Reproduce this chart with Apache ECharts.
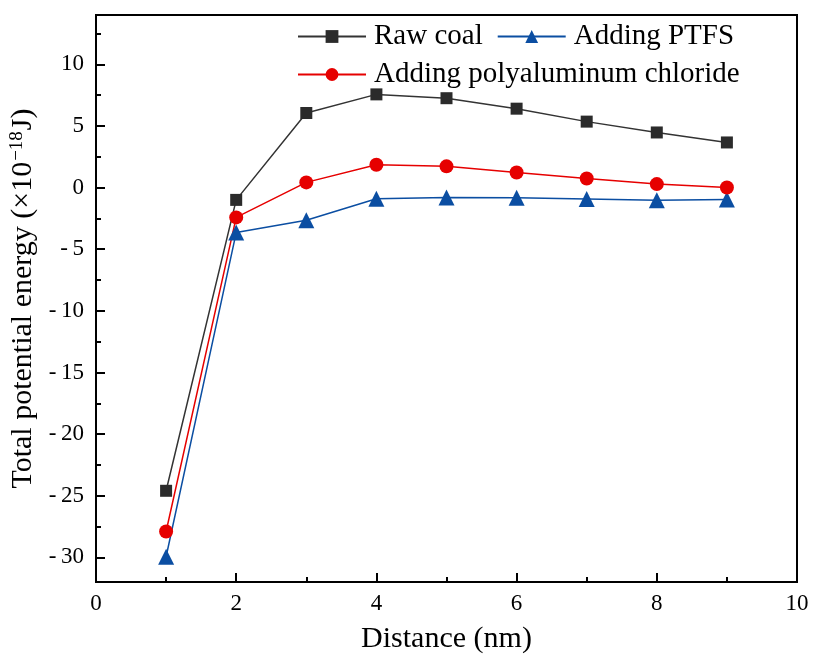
<!DOCTYPE html>
<html><head><meta charset="utf-8">
<script src="https://cdn.jsdelivr.net/npm/echarts@6/dist/echarts.min.js"></script>
<style>html,body{margin:0;padding:0;background:#fff}#c{width:814px;height:655px}</style>
</head><body><div id="c"></div>
<script>
const distance = [1, 2, 3, 4, 5, 6, 7, 8, 9];
const rawCoal = [-24.6, -1.0, 6.05, 7.56, 7.25, 6.4, 5.35, 4.47, 3.66];
const addingPTFS = [-29.95, -3.65, -2.65, -0.9, -0.8, -0.82, -0.93, -1.02, -0.97];
const addingPAC = [-27.9, -2.42, 0.42, 1.85, 1.72, 1.22, 0.74, 0.28, 0.0];
const seriesNames = ['Raw coal', 'Adding PTFS', 'Adding polyaluminum chloride'];
const yTickValues = [-30, -25, -20, -15, -10, -5, 0, 5, 10];
const yMinorTickValues = [-27.5, -22.5, -17.5, -12.5, -7.5, -2.5, 2.5, 7.5, 12.5];

const font = 'Liberation Serif, Times New Roman, serif';
const chart = echarts.init(document.getElementById('c'));
const pair = (ys) => distance.map((x, i) => [x, ys[i]]);
const legendText = { fontFamily: font, fontSize: 29, color: '#000', padding: [0, 0, 0, 3] };
chart.setOption({
  animation: false,
  backgroundColor: '#fff',
  grid: { left: 96, right: 17, top: 15, bottom: 73, containLabel: false, outerBoundsMode: 'none',
    show: true, borderColor: '#000', borderWidth: 2, backgroundColor: 'transparent' },
  legend: [
    { data: [seriesNames[0], seriesNames[1]], left: 297, top: 22, itemWidth: 68, itemHeight: 16, itemGap: 14, padding: 0,
      textStyle: legendText },
    { data: [seriesNames[2]], left: 297, top: 60, itemWidth: 68, itemHeight: 16, padding: 0,
      textStyle: legendText }
  ],
  xAxis: {
    type: 'value', min: 0, max: 10, interval: 2,
    name: 'Distance (nm)', nameLocation: 'middle', nameGap: 42,
    nameTextStyle: { fontFamily: font, fontSize: 30, color: '#000' },
    axisLine: { onZero: false, lineStyle: { color: '#000', width: 2 } },
    axisTick: { inside: true, length: 9, lineStyle: { color: '#000', width: 2 } },
    minorTick: { show: true, splitNumber: 2, length: 5, lineStyle: { color: '#000', width: 2 } },
    axisLabel: { fontFamily: font, fontSize: 23, color: '#000', margin: 10 },
    splitLine: { show: false }
  },
  yAxis: [{
    type: 'value', min: -32, max: 14, position: 'left',
    name: '{a|Total potential energy (×10}{s|−18}{a|J)}', nameLocation: 'middle', nameGap: 54,
    nameTextStyle: { rich: {
      a: { fontFamily: font, fontSize: 30, color: '#000' },
      s: { fontFamily: font, fontSize: 19, color: '#000', verticalAlign: 'top', padding: [0, 1, 12, 1] } } },
    axisLine: { onZero: false, lineStyle: { color: '#000', width: 2 } },
    axisTick: { inside: true, length: 9, customValues: yTickValues, lineStyle: { color: '#000', width: 2 } },
    axisLabel: { fontFamily: font, fontSize: 23, color: '#000', margin: 12, customValues: yTickValues,
      formatter: v => v < 0 ? '-\u2009' + Math.abs(v) : String(v) },
    splitLine: { show: false }
  }, {
    type: 'value', min: -32, max: 14, position: 'left', offset: 0,
    axisLine: { show: false, onZero: false },
    axisTick: { inside: true, length: 5, customValues: yMinorTickValues, lineStyle: { color: '#000', width: 2 } },
    axisLabel: { show: false },
    splitLine: { show: false }
  }],
  series: [
    { name: seriesNames[0], type: 'line', data: pair(rawCoal), symbol: 'rect', symbolSize: 12,
      lineStyle: { color: '#333333', width: 1.5 }, itemStyle: { color: '#2b2b2b' } },
    { name: seriesNames[1], type: 'line', data: pair(addingPTFS), symbol: 'triangle', symbolSize: 16,
      lineStyle: { color: '#0b4ea2', width: 1.5 }, itemStyle: { color: '#0b4ea2' } },
    { name: seriesNames[2], type: 'line', data: pair(addingPAC), symbol: 'circle', symbolSize: 14,
      lineStyle: { color: '#e60000', width: 1.5 }, itemStyle: { color: '#e60000' } }
  ]
});
</script></body></html>
